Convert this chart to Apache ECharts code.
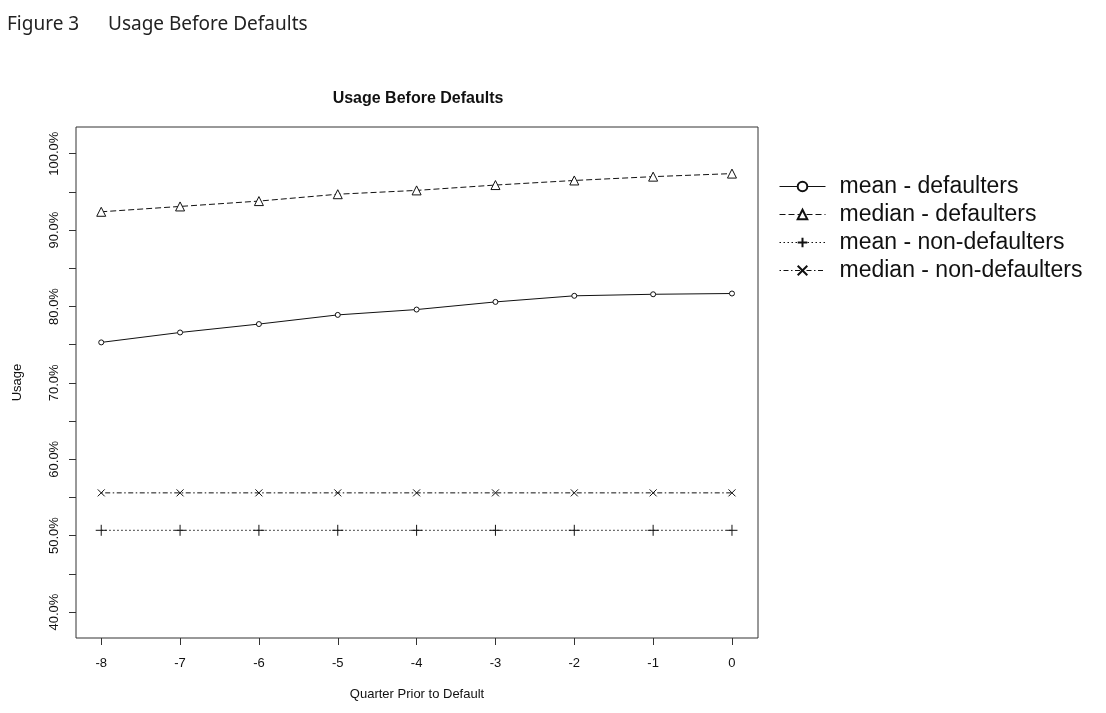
<!DOCTYPE html>
<html>
<head>
<meta charset="utf-8">
<script src="https://cdn.jsdelivr.net/npm/echarts@6/dist/echarts.min.js"></script>
<style>
  html, body { margin: 0; padding: 0; background: #fff; }
  #chart { width: 1106px; height: 713px; }
</style>
</head>
<body>
<div id="chart"></div>
<script>
// quarters before default
const quarters = [-8, -7, -6, -5, -4, -3, -2, -1, 0]

// usage in percent
const meanDefaulters = [75.3, 76.6, 77.7, 78.9, 79.6, 80.6, 81.4, 81.6, 81.7]
const medianDefaulters = [92.4, 93.1, 93.8, 94.7, 95.2, 95.9, 96.5, 97.0, 97.4]
const meanNonDefaulters = [50.7, 50.7, 50.7, 50.7, 50.7, 50.7, 50.7, 50.7, 50.7]
const medianNonDefaulters = [55.6, 55.6, 55.6, 55.6, 55.6, 55.6, 55.6, 55.6, 55.6]

const yTicks = [40, 45, 50, 55, 60, 65, 70, 75, 80, 85, 90, 95, 100]
const yLabels = [40, 50, 60, 70, 80, 90, 100]

const seriesNames = [
  "mean - defaulters",
  "median - defaulters",
  "mean - non-defaulters",
  "median - non-defaulters"
]

const FONT = "Liberation Sans, Arial, sans-serif"

const pairs = vals => quarters.map((q, i) => [q, vals[i]])

const makeSeries = (name, vals, symbol, size, dash) => ({
  name: name,
  type: "line",
  data: pairs(vals),
  symbol: symbol,
  symbolSize: size,
  showSymbol: true,
  animation: false,
  itemStyle: { color: "#fff", borderColor: "#111", borderWidth: 1 },
  lineStyle: { color: "#111", width: 1, type: dash },
  emphasis: { disabled: true }
})

const chart = echarts.init(document.getElementById("chart"))

chart.setOption({
  backgroundColor: "#fff",
  animation: false,
  title: {
    text: "Usage Before Defaults",
    left: 413,
    top: 86,
    textAlign: "center",
    textStyle: { fontFamily: FONT, fontSize: 16, fontWeight: "bold", color: "#111" }
  },
  graphic: [
    {
      type: "text",
      left: 7,
      top: 15,
      style: { text: "Figure 3", font: "19px 'Noto Sans', sans-serif", fill: "#222" }
    },
    {
      type: "text",
      left: 108,
      top: 15,
      style: { text: "Usage Before Defaults", font: "19px 'Noto Sans', sans-serif", fill: "#222" }
    }
  ],
  legend: {
    orient: "vertical",
    left: 774,
    top: 170,
    itemWidth: 46,
    itemHeight: 12,
    itemGap: 5,
    lineStyle: { width: 1 },
    textStyle: { fontFamily: FONT, fontSize: 23, color: "#111", padding: [0, 0, 0, 9] },
    data: seriesNames
  },
  grid: {
    left: 76,
    right: 348,
    top: 127,
    bottom: 75,
    show: true,
    borderColor: "#333",
    borderWidth: 1,
    backgroundColor: "transparent"
  },
  xAxis: {
    type: "value",
    min: -8.32,
    max: 0.33,
    name: "Quarter Prior to Default",
    nameLocation: "middle",
    nameGap: 50,
    nameTextStyle: { fontFamily: FONT, fontSize: 13, color: "#111" },
    axisLine: { show: false, onZero: false },
    splitLine: { show: false },
    axisTick: {
      show: true,
      length: 7,
      customValues: quarters,
      lineStyle: { color: "#333" }
    },
    axisLabel: {
      customValues: quarters,
      margin: 19,
      fontFamily: FONT,
      fontSize: 13,
      color: "#111"
    }
  },
  yAxis: {
    type: "value",
    min: 36.6,
    max: 103.5,
    name: "Usage",
    nameLocation: "middle",
    nameRotate: 90,
    nameGap: 52,
    nameTextStyle: { fontFamily: FONT, fontSize: 13, color: "#111" },
    axisLine: { show: false, onZero: false },
    splitLine: { show: false },
    axisTick: {
      show: true,
      length: 7,
      customValues: yTicks,
      lineStyle: { color: "#333" }
    },
    axisLabel: {
      customValues: yLabels,
      rotate: 90,
      margin: 15,
      fontFamily: FONT,
      fontSize: 13,
      color: "#111",
      formatter: v => v.toFixed(1) + "%"
    }
  },
  series: [
    makeSeries(seriesNames[0], meanDefaulters, "circle", 5, "solid"),
    makeSeries(seriesNames[1], medianDefaulters, "triangle", 9, [6, 3]),
    makeSeries(seriesNames[2], meanNonDefaulters, "path://M0,5L10,5M5,0L5,10", 11, [1.5, 2.5]),
    makeSeries(seriesNames[3], medianNonDefaulters, "path://M0,0L10,10M10,0L0,10", 7, [1.5, 2.5, 5, 2.5])
  ]
})
</script>
</body>
</html>
